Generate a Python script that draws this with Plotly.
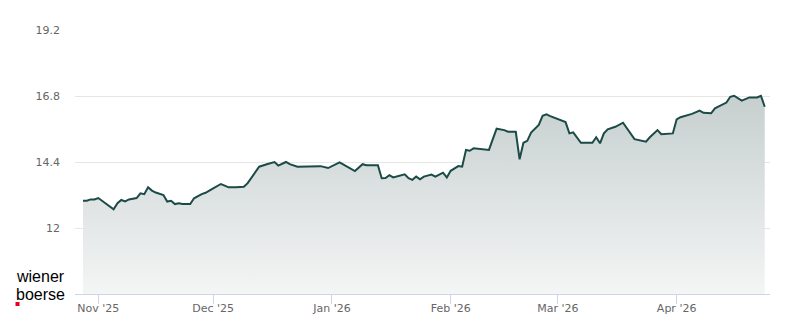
import plotly.graph_objects as go

dates = [
    "2025-10-28", "2025-10-29", "2025-10-30", "2025-10-31", "2025-11-01", "2025-11-02",
    "2025-11-03", "2025-11-05", "2025-11-06", "2025-11-07", "2025-11-08", "2025-11-09",
    "2025-11-11", "2025-11-12", "2025-11-13", "2025-11-14", "2025-11-15", "2025-11-16",
    "2025-11-18", "2025-11-19", "2025-11-20", "2025-11-21", "2025-11-22", "2025-11-23",
    "2025-11-25", "2025-11-26", "2025-11-28", "2025-11-29", "2025-12-01", "2025-12-03",
    "2025-12-04", "2025-12-05", "2025-12-07", "2025-12-09", "2025-12-10", "2025-12-12",
    "2025-12-13", "2025-12-15", "2025-12-17", "2025-12-18", "2025-12-20", "2025-12-21",
    "2025-12-23", "2025-12-29", "2025-12-31", "2026-01-03", "2026-01-05", "2026-01-07",
    "2026-01-09", "2026-01-10", "2026-01-13", "2026-01-14", "2026-01-15", "2026-01-16",
    "2026-01-17", "2026-01-20", "2026-01-21", "2026-01-22", "2026-01-23", "2026-01-24",
    "2026-01-25", "2026-01-27", "2026-01-28", "2026-01-30", "2026-01-31", "2026-02-01",
    "2026-02-03", "2026-02-04", "2026-02-05", "2026-02-06", "2026-02-07", "2026-02-11",
    "2026-02-12", "2026-02-13", "2026-02-15", "2026-02-16", "2026-02-18", "2026-02-19",
    "2026-02-20", "2026-02-21", "2026-02-22", "2026-02-24", "2026-02-25", "2026-02-26",
    "2026-02-27", "2026-03-03", "2026-03-04", "2026-03-05", "2026-03-07", "2026-03-10",
    "2026-03-11", "2026-03-12", "2026-03-13", "2026-03-14", "2026-03-16", "2026-03-18",
    "2026-03-21", "2026-03-24", "2026-03-25", "2026-03-27", "2026-03-28", "2026-03-31",
    "2026-04-01", "2026-04-02", "2026-04-05", "2026-04-07", "2026-04-08", "2026-04-10",
    "2026-04-11", "2026-04-14", "2026-04-15", "2026-04-16", "2026-04-18", "2026-04-20",
    "2026-04-22", "2026-04-23", "2026-04-24",
]

prices = [
    12.99, 12.99, 13.04, 13.04, 13.09, 12.99,
    12.90, 12.68, 12.90, 13.02, 12.97, 13.04,
    13.09, 13.26, 13.23, 13.48, 13.36, 13.29,
    13.20, 12.96, 12.99, 12.87, 12.90, 12.87,
    12.87, 13.08, 13.23, 13.28, 13.44, 13.60,
    13.54, 13.48, 13.48, 13.50, 13.63, 14.05,
    14.23, 14.32, 14.40, 14.27, 14.40, 14.32,
    14.23, 14.25, 14.18, 14.39, 14.23, 14.07,
    14.32, 14.28, 14.28, 13.81, 13.82, 13.92,
    13.84, 13.95, 13.81, 13.75, 13.87, 13.77,
    13.87, 13.94, 13.87, 14.01, 13.84, 14.08,
    14.25, 14.23, 14.84, 14.81, 14.90, 14.84,
    15.23, 15.61, 15.56, 15.50, 15.50, 14.50,
    15.10, 15.17, 15.47, 15.75, 16.08, 16.13,
    16.07, 15.85, 15.44, 15.48, 15.10, 15.10,
    15.30, 15.08, 15.44, 15.59, 15.68, 15.83,
    15.23, 15.14, 15.30, 15.56, 15.41, 15.44,
    15.95, 16.03, 16.15, 16.27, 16.19, 16.17,
    16.35, 16.56, 16.77, 16.81, 16.63, 16.75,
    16.75, 16.81, 16.41,
]

y_tickvals = [12, 14.4, 16.8, 19.2]
y_ticktext = ["12", "14.4", "16.8", "19.2"]
y_range = [9.6, 19.2]
x_range = ["2025-10-25 22:00", "2026-04-25 09:00"]
month_ticks = ["2025-11-01", "2025-12-01", "2026-01-01", "2026-02-01", "2026-03-01", "2026-04-01"]
month_labels = ["Nov '25", "Dec '25", "Jan '26", "Feb '26", "Mar '26", "Apr '26"]

W, H = 800, 324
ML, MR, MT, MB = 75, 30, 30, 30

fig = go.Figure()
fig.add_trace(go.Scatter(
    x=dates, y=prices, mode="lines",
    line=dict(color="#1b4a47", width=2),
    fill="tozeroy",
    fillgradient=dict(
        type="vertical",
        colorscale=[[0, "#f4f5f5"], [1, "#b7c3c2"]],
        start=9.6, stop=19.2,
    ),
    hoverinfo="skip",
))

fig.update_layout(
    width=W, height=H,
    margin=dict(l=ML, r=MR, t=MT, b=MB, pad=0, autoexpand=False),
    paper_bgcolor="white", plot_bgcolor="white",
    showlegend=False,
    font=dict(family="DejaVu Sans", size=11, color="#666666"),
    xaxis=dict(
        type="date", range=x_range, automargin=False,
        tickvals=month_ticks, ticktext=month_labels,
        ticks="outside", ticklen=9, tickcolor="#ccd6eb", tickwidth=1,
        ticklabelstandoff=-5,
        showline=True, linecolor="#ccd6eb", linewidth=1,
        showgrid=False, zeroline=False,
        tickfont=dict(family="DejaVu Sans", size=11, color="#666666"),
    ),
    yaxis=dict(
        range=y_range, tickvals=y_tickvals, ticktext=y_ticktext, automargin=False,
        showgrid=True, gridcolor="#e6e6e6", gridwidth=1,
        zeroline=False, showline=False, ticks="",
        ticklabelstandoff=14,
        tickfont=dict(family="DejaVu Sans", size=11, color="#666666"),
    ),
)

def px_x(p):
    return (p - ML) / (W - ML - MR)

def px_y(p):
    return (H - MB - p) / (H - MT - MB)

for word, cy in (("wiener", 276.0), ("boerse", 294.0)):
    fig.add_annotation(text=word, xref="paper", yref="paper",
                       x=px_x(14.5), y=px_y(cy), xanchor="left", yanchor="middle",
                       showarrow=False, borderpad=0,
                       font=dict(family="Liberation Sans", size=16, color="#000000"))
fig.add_shape(type="rect", xref="paper", yref="paper",
              x0=px_x(15.5), x1=px_x(19.5), y0=px_y(306), y1=px_y(302),
              fillcolor="#e2001a", line=dict(width=0))

fig.write_html("out.html")
